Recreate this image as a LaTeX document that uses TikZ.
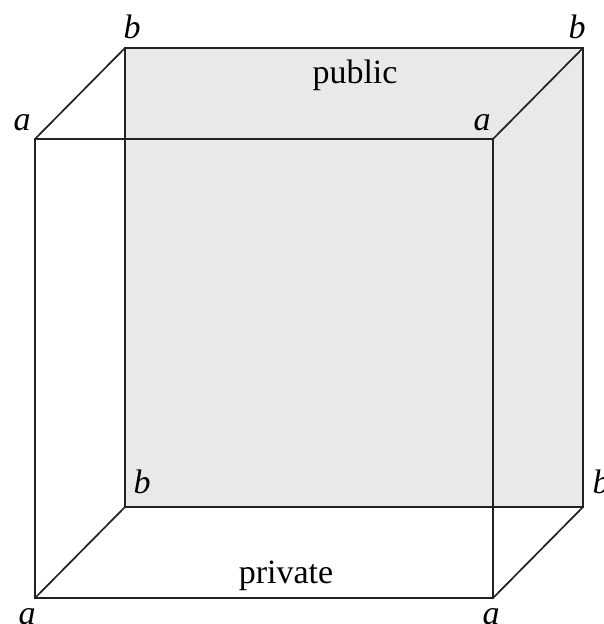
\documentclass[tikz,border=0pt]{standalone}
\usepackage{fontspec}
\setmainfont{Liberation Serif}
\definecolor{facegray}{HTML}{E9E9E9}
\definecolor{edge}{HTML}{222222}
\begin{document}
\begin{tikzpicture}[x=1pt,y=-1pt,
  edgeline/.style={draw=edge,line width=1.7pt,line join=miter},
  vlabel/.style={font=\fontsize{34}{40}\selectfont\itshape,anchor=base,inner sep=0pt},
  tlabel/.style={font=\fontsize{34}{40}\selectfont,anchor=base,inner sep=0pt}]
\useasboundingbox (0,0) rectangle (603,624);
% back face corners
\coordinate (B1) at (125,48);
\coordinate (B2) at (583,48);
\coordinate (B3) at (583,507);
\coordinate (B4) at (125,507);
% front face corners
\coordinate (F1) at (35,139);
\coordinate (F2) at (493,139);
\coordinate (F3) at (493,598);
\coordinate (F4) at (35,598);
\fill[facegray] (B1) -- (B2) -- (B3) -- (B4) -- cycle;
\draw[edgeline] (B1) -- (B2) -- (B3) -- (B4) -- cycle;
\draw[edgeline] (F1) -- (F2) -- (F3) -- (F4) -- cycle;
\draw[edgeline] (F1) -- (B1);
\draw[edgeline] (F2) -- (B2);
\draw[edgeline] (F3) -- (B3);
\draw[edgeline] (F4) -- (B4);
% labels
\node[vlabel] (lb1) at (132,38) {b};
\node[vlabel] (lb2) at (577,38) {b};
\node[vlabel] (lb3) at (601,493) {b};
\node[vlabel] (lb4) at (142,493) {b};
\node[vlabel] (la1) at (22,130) {a};
\node[vlabel] (la2) at (482,130) {a};
\node[vlabel] (la3) at (491,624) {a};
\node[vlabel] (la4) at (27,624) {a};
\node[tlabel] (pub) at (355,83) {public};
\node[tlabel] (priv) at (286,583) {private};
\end{tikzpicture}
\end{document}
